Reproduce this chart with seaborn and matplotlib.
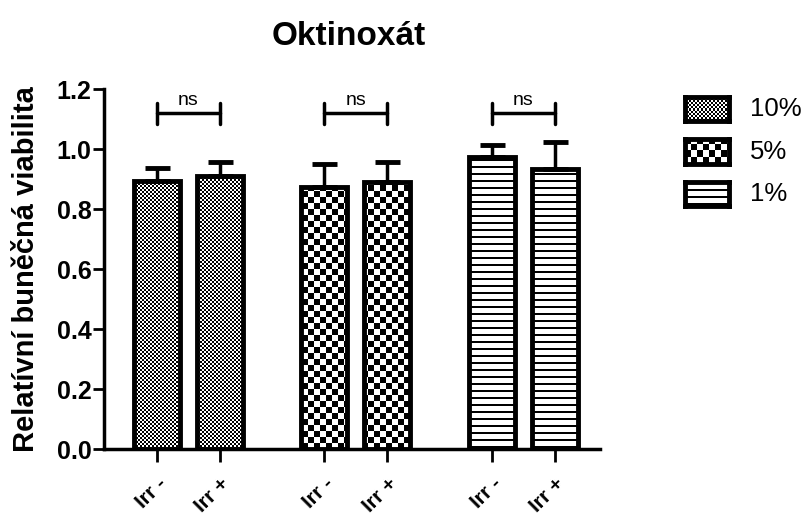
import numpy as np
import pandas as pd
import matplotlib
matplotlib.use("Agg")
import matplotlib.pyplot as plt
import seaborn as sns

# data
conc = ['10%', '5%', '1%']
irr = ['Irr -', 'Irr +']
mean_minus = [0.895, 0.875, 0.975]
mean_plus = [0.91, 0.89, 0.935]
sd_minus = [0.042, 0.075, 0.038]
sd_plus = [0.047, 0.067, 0.088]
sig = ['ns', 'ns', 'ns']

df = pd.DataFrame({
    'conc': conc + conc,
    'irr': [irr[0]] * 3 + [irr[1]] * 3,
    'value': mean_minus + mean_plus,
    'sd': sd_minus + sd_plus,
})

sns.set_style('ticks')
plt.rcParams['font.family'] = ['Liberation Sans', 'DejaVu Sans']
plt.rcParams.update({'text.color': 'black', 'axes.labelcolor': 'black',
                     'xtick.color': 'black', 'ytick.color': 'black',
                     'axes.edgecolor': 'black'})

fig = plt.figure(figsize=(8.08, 5.2), dpi=100)
ax = fig.add_axes([0.1287, 0.1365, 0.6139, 0.6923])

sns.barplot(data=df, x='conc', y='value', hue='irr', order=conc, hue_order=irr,
            palette={'Irr -': 'white', 'Irr +': 'white'}, edgecolor='black',
            linewidth=3.5, width=0.752, gap=0.27, errorbar=None, legend=False, ax=ax)

ax.set_xlim(-0.504, 2.457)
ax.set_ylim(0, 1.2)

# pixel-sized fill patterns
W, H = 496, 360
jj, ii = np.meshgrid(np.arange(W), np.arange(H))
def checker(c):
    return ((ii // c + jj // c) % 2).astype(float)
patterns = {
    '10%': checker(2),
    '5%': checker(6),
    '1%': np.where(ii % 7 < 2, 0.0, 1.0),
}

bars = sorted(ax.patches, key=lambda p: p.get_x())
centers = [p.get_x() + p.get_width() / 2 for p in bars]
bar_conc = [conc[i // 2] for i in range(len(bars))]
x0, x1 = ax.get_xlim()
for p, c in zip(bars, bar_conc):
    p.set_facecolor('none')
    p.set_zorder(3)
    im = ax.imshow(patterns[c], cmap='gray', vmin=0, vmax=1, interpolation='nearest',
                   extent=(x0, x1, 0, 1.2), aspect='auto', zorder=2)
    im.set_clip_path(p)
ax.set_xlim(x0, x1)
ax.set_ylim(0, 1.2)

# values in bar order
vals = [df[(df.conc == conc[i // 2]) & (df.irr == irr[i % 2])]['value'].iloc[0] for i in range(6)]
errs = [df[(df.conc == conc[i // 2]) & (df.irr == irr[i % 2])]['sd'].iloc[0] for i in range(6)]
ax.errorbar(centers, vals, yerr=[np.zeros(6), errs], fmt='none', ecolor='black',
            elinewidth=2.5, capsize=9, capthick=3.5, zorder=4)

# significance brackets
by, bh = 1.12, 0.035
for g in range(3):
    xa, xb = centers[2 * g], centers[2 * g + 1]
    ax.plot([xa, xb], [by, by], color='black', lw=2.5, clip_on=False)
    ax.plot([xa, xa], [by - bh, by + bh], color='black', lw=2.5, clip_on=False)
    ax.plot([xb, xb], [by - bh, by + bh], color='black', lw=2.5, clip_on=False)
    ax.text((xa + xb) / 2, by + 0.012, sig[g], ha='center', va='bottom', fontsize=14)

ax.set_xticks(centers)
ax.set_xticklabels([irr[i % 2] for i in range(6)], rotation=45, ha='right',
                   rotation_mode='anchor', fontsize=15, fontweight='bold')
ax.set_yticks(np.arange(0, 1.21, 0.2))
ax.set_yticklabels([f'{v:.1f}' for v in np.arange(0, 1.21, 0.2)], fontsize=18, fontweight='bold')
ax.tick_params(axis='y', length=8, width=2, pad=1)
ax.tick_params(axis='x', length=9, width=2, pad=9)
for s in ['top', 'right']:
    ax.spines[s].set_visible(False)
for s in ['left', 'bottom']:
    ax.spines[s].set_linewidth(2.5)
ax.set_xlabel('')
ax.set_ylabel('Relatívní buněčná viabilita', fontsize=21, fontweight='bold', labelpad=12)

fig.text(0.432, 0.93, 'Oktinoxát', ha='center', va='center', fontsize=24, fontweight='bold')

# legend swatches
for k, c in enumerate(conc):
    top = 97 + k * 42.5
    lax = fig.add_axes([685 / 808, 1 - (top + 24) / 520, 44 / 808, 24 / 520])
    lax.imshow(patterns[c][:24, :44], cmap='gray', vmin=0, vmax=1,
               interpolation='nearest', aspect='auto')
    lax.set_xticks([])
    lax.set_yticks([])
    for s in lax.spines.values():
        s.set_linewidth(3.5)
        s.set_color('black')
    fig.text(750 / 808, 1 - (top + 12) / 520, c, ha='left', va='center', fontsize=18.5)

fig.savefig('out.png', dpi=100)
